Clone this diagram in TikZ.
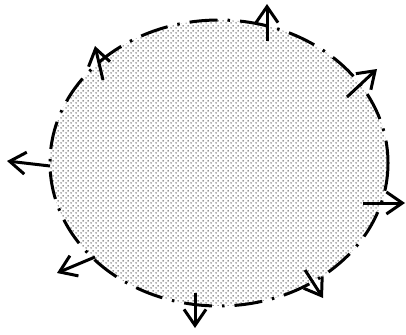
\documentclass[tikz,border=0pt]{standalone}
\usetikzlibrary{arrows.meta,patterns.meta}
\tikzdeclarepattern{
  name=bigdots,
  type=uncolored,
  bounding box={(0pt,0pt) and (5pt,5pt)},
  tile size={(5pt,5pt)},
  code={
    \fill (1.25pt,1.25pt) circle (0.95pt);
    \fill (3.75pt,3.75pt) circle (0.95pt);
  }
}
\begin{document}
\begin{tikzpicture}[x=1pt,y=-1pt,
  outarrow/.style={line width=3pt,-{Straight Barb[length=16pt,width=22pt,line width=3pt]}},
  rim/.style={line width=3pt,dash pattern=on 28pt off 10pt on 2.5pt off 10pt}]
\useasboundingbox[fill=white] (0,0) rectangle (406,334);
\path[pattern=bigdots,pattern color=black!55] (219,163) ellipse [x radius=169,y radius=143];
\draw[rim] (219,163) ellipse [x radius=169,y radius=143];
\coordinate (s1) at (267,41);  \coordinate (e1) at (267,4);
\coordinate (s2) at (103,80);  \coordinate (e2) at (95,46);
\coordinate (s3) at (347,97);  \coordinate (e3) at (377,69);
\coordinate (s4) at (50,166);  \coordinate (e4) at (7,161);
\coordinate (s5) at (363,203); \coordinate (e5) at (405,203);
\coordinate (s6) at (95,257);  \coordinate (e6) at (57,273);
\coordinate (s7) at (195,293); \coordinate (e7) at (195,328);
\coordinate (s8) at (305,270); \coordinate (e8) at (323,298);
\foreach \i in {1,...,8} \draw[outarrow] (s\i) -- (e\i);
\end{tikzpicture}
\end{document}
